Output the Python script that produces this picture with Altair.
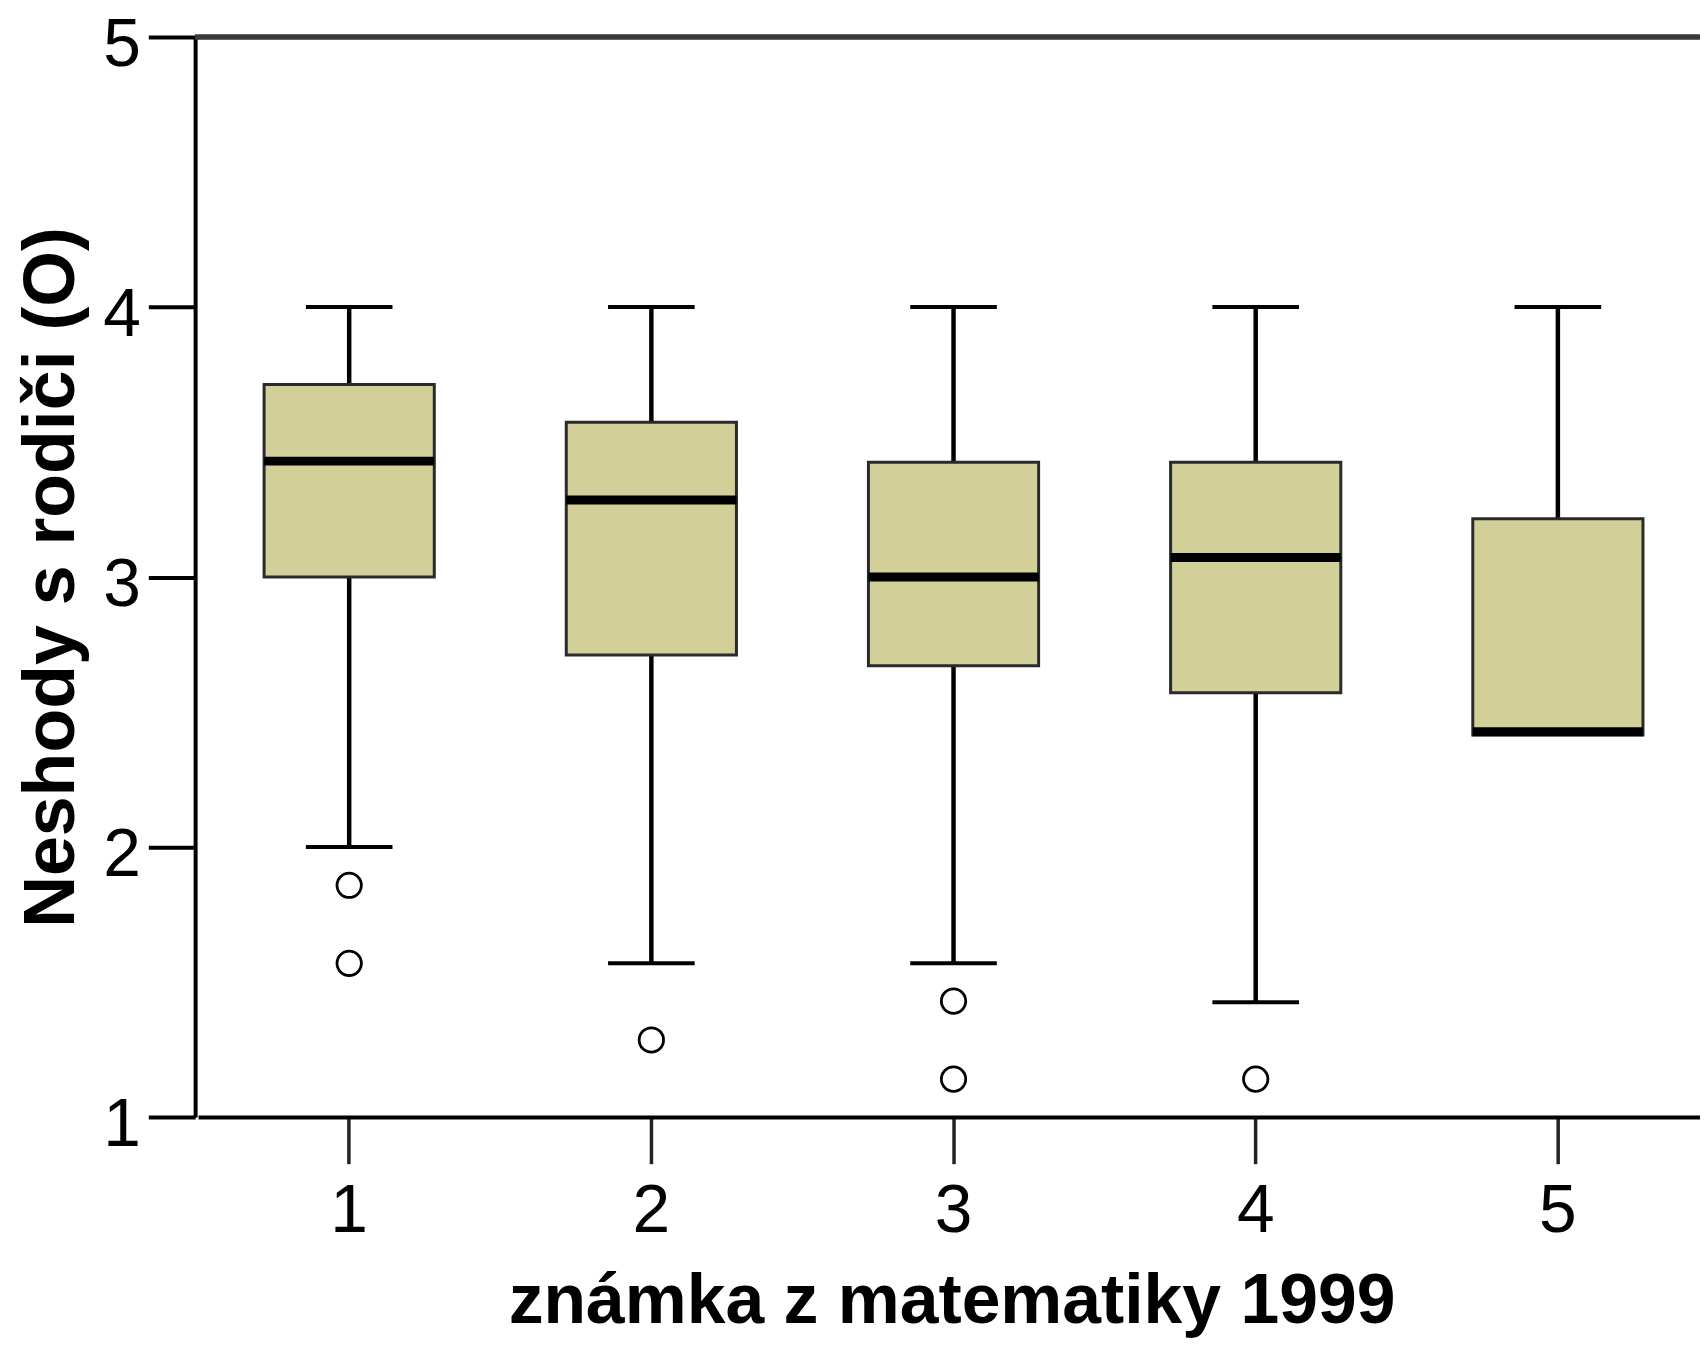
import altair as alt
import pandas as pd

# Box-plot summary values
grades = ["1", "2", "3", "4", "5"]
whisker_high = [4.0, 4.0, 4.0, 4.0, 4.0]
q3 = [3.713, 3.573, 3.425, 3.425, 3.216]
median = [3.429, 3.285, 3.0, 3.072, 2.427]
q1 = [3.0, 2.711, 2.671, 2.571, 2.415]
whisker_low = [2.0, 1.569, 1.569, 1.425, 2.415]

outlier_grades = ["1", "1", "2", "3", "3", "4"]
outlier_values = [1.858, 1.569, 1.285, 1.429, 1.140, 1.140]

y_ticks = [1, 2, 3, 4, 5]

box_df = pd.DataFrame({
    "grade": grades,
    "hi": whisker_high,
    "q3": q3,
    "med": median,
    "q1": q1,
    "lo": whisker_low,
})
cap_lo_df = box_df[box_df["lo"] < box_df["q1"]]
out_df = pd.DataFrame({"grade": outlier_grades, "value": outlier_values})

FONT = "Liberation Sans"
W, H = 1512, 1085

x_enc = alt.X(
    "grade:O",
    sort=grades,
    scale=alt.Scale(type="band", paddingInner=0, paddingOuter=0, range=[3, 1521]),
    axis=alt.Axis(
        title="známka z matematiky 1999",
        labelAngle=0,
        labelFont=FONT,
        labelFontSize=68,
        labelColor="black",
        labelPadding=14,
        tickSize=47,
        tickWidth=3.5,
        tickColor="#222",
        domainColor="black",
        domainWidth=4,
        titleFont=FONT,
        titleFontSize=70,
        titleFontWeight="bold",
        titleColor="black",
        titleX=760,
        titleY=207,
        titleBaseline="alphabetic",
    ),
)

y_scale = alt.Scale(domain=[1, 5], nice=False, zero=False)
y_axis = alt.Axis(
    values=y_ticks,
    format="d",
    title="Neshody s rodiči (O)",
    labelFont=FONT,
    labelFontSize=68,
    labelColor="black",
    labelPadding=8,
    labelOffset=9,
    tickSize=47,
    tickWidth=4,
    tickColor="black",
    domainColor="black",
    domainWidth=4,
    grid=False,
    titleFont=FONT,
    titleFontSize=72,
    titleFontWeight="bold",
    titleColor="black",
    titleX=-144,
    titleY=H / 2,
    titleAngle=-90,
    titleAlign="center",
    titleBaseline="middle",
)

base = alt.Chart(box_df)

top_border = base.mark_rule(color="#3a3a3a", strokeWidth=4.5).encode(
    y=alt.datum(5, scale=y_scale)
)

whisk_up = base.mark_rule(color="black", strokeWidth=4.5).encode(
    x=x_enc, y=alt.Y("q3:Q", scale=y_scale, axis=y_axis), y2="hi:Q"
)
whisk_down = base.mark_rule(color="black", strokeWidth=4.5).encode(
    x=x_enc, y=alt.Y("lo:Q", scale=y_scale, axis=y_axis), y2="q1:Q"
)
cap_hi = base.mark_tick(color="black", size=87, thickness=4, opacity=1).encode(
    x=x_enc, y=alt.Y("hi:Q", scale=y_scale, axis=y_axis)
)
cap_lo = alt.Chart(cap_lo_df).mark_tick(color="black", size=87, thickness=4, opacity=1).encode(
    x=x_enc, y=alt.Y("lo:Q", scale=y_scale, axis=y_axis)
)
boxes = base.mark_bar(size=171, fill="#D3CF98", stroke="#2a2a2a", strokeWidth=3, opacity=1).encode(
    x=x_enc, y=alt.Y("q1:Q", scale=y_scale, axis=y_axis), y2="q3:Q"
)
med = base.mark_tick(color="black", size=171, thickness=9, opacity=1).encode(
    x=x_enc, y=alt.Y("med:Q", scale=y_scale, axis=y_axis)
)
outliers = alt.Chart(out_df).mark_point(
    shape="circle", filled=False, color="black", strokeWidth=2.8, size=600, opacity=1
).encode(
    x=x_enc, y=alt.Y("value:Q", scale=y_scale, axis=y_axis)
)

chart = alt.layer(
    whisk_up, whisk_down, cap_hi, cap_lo, boxes, med, outliers, top_border
).properties(
    width=W,
    height=H,
    autosize=alt.AutoSizeParams(type="none"),
    padding={"left": 188, "top": 26, "right": 0, "bottom": 223},
    background="white",
).configure_view(stroke=None)

chart.save("out.html", embed_options={"renderer": "svg", "actions": False})
